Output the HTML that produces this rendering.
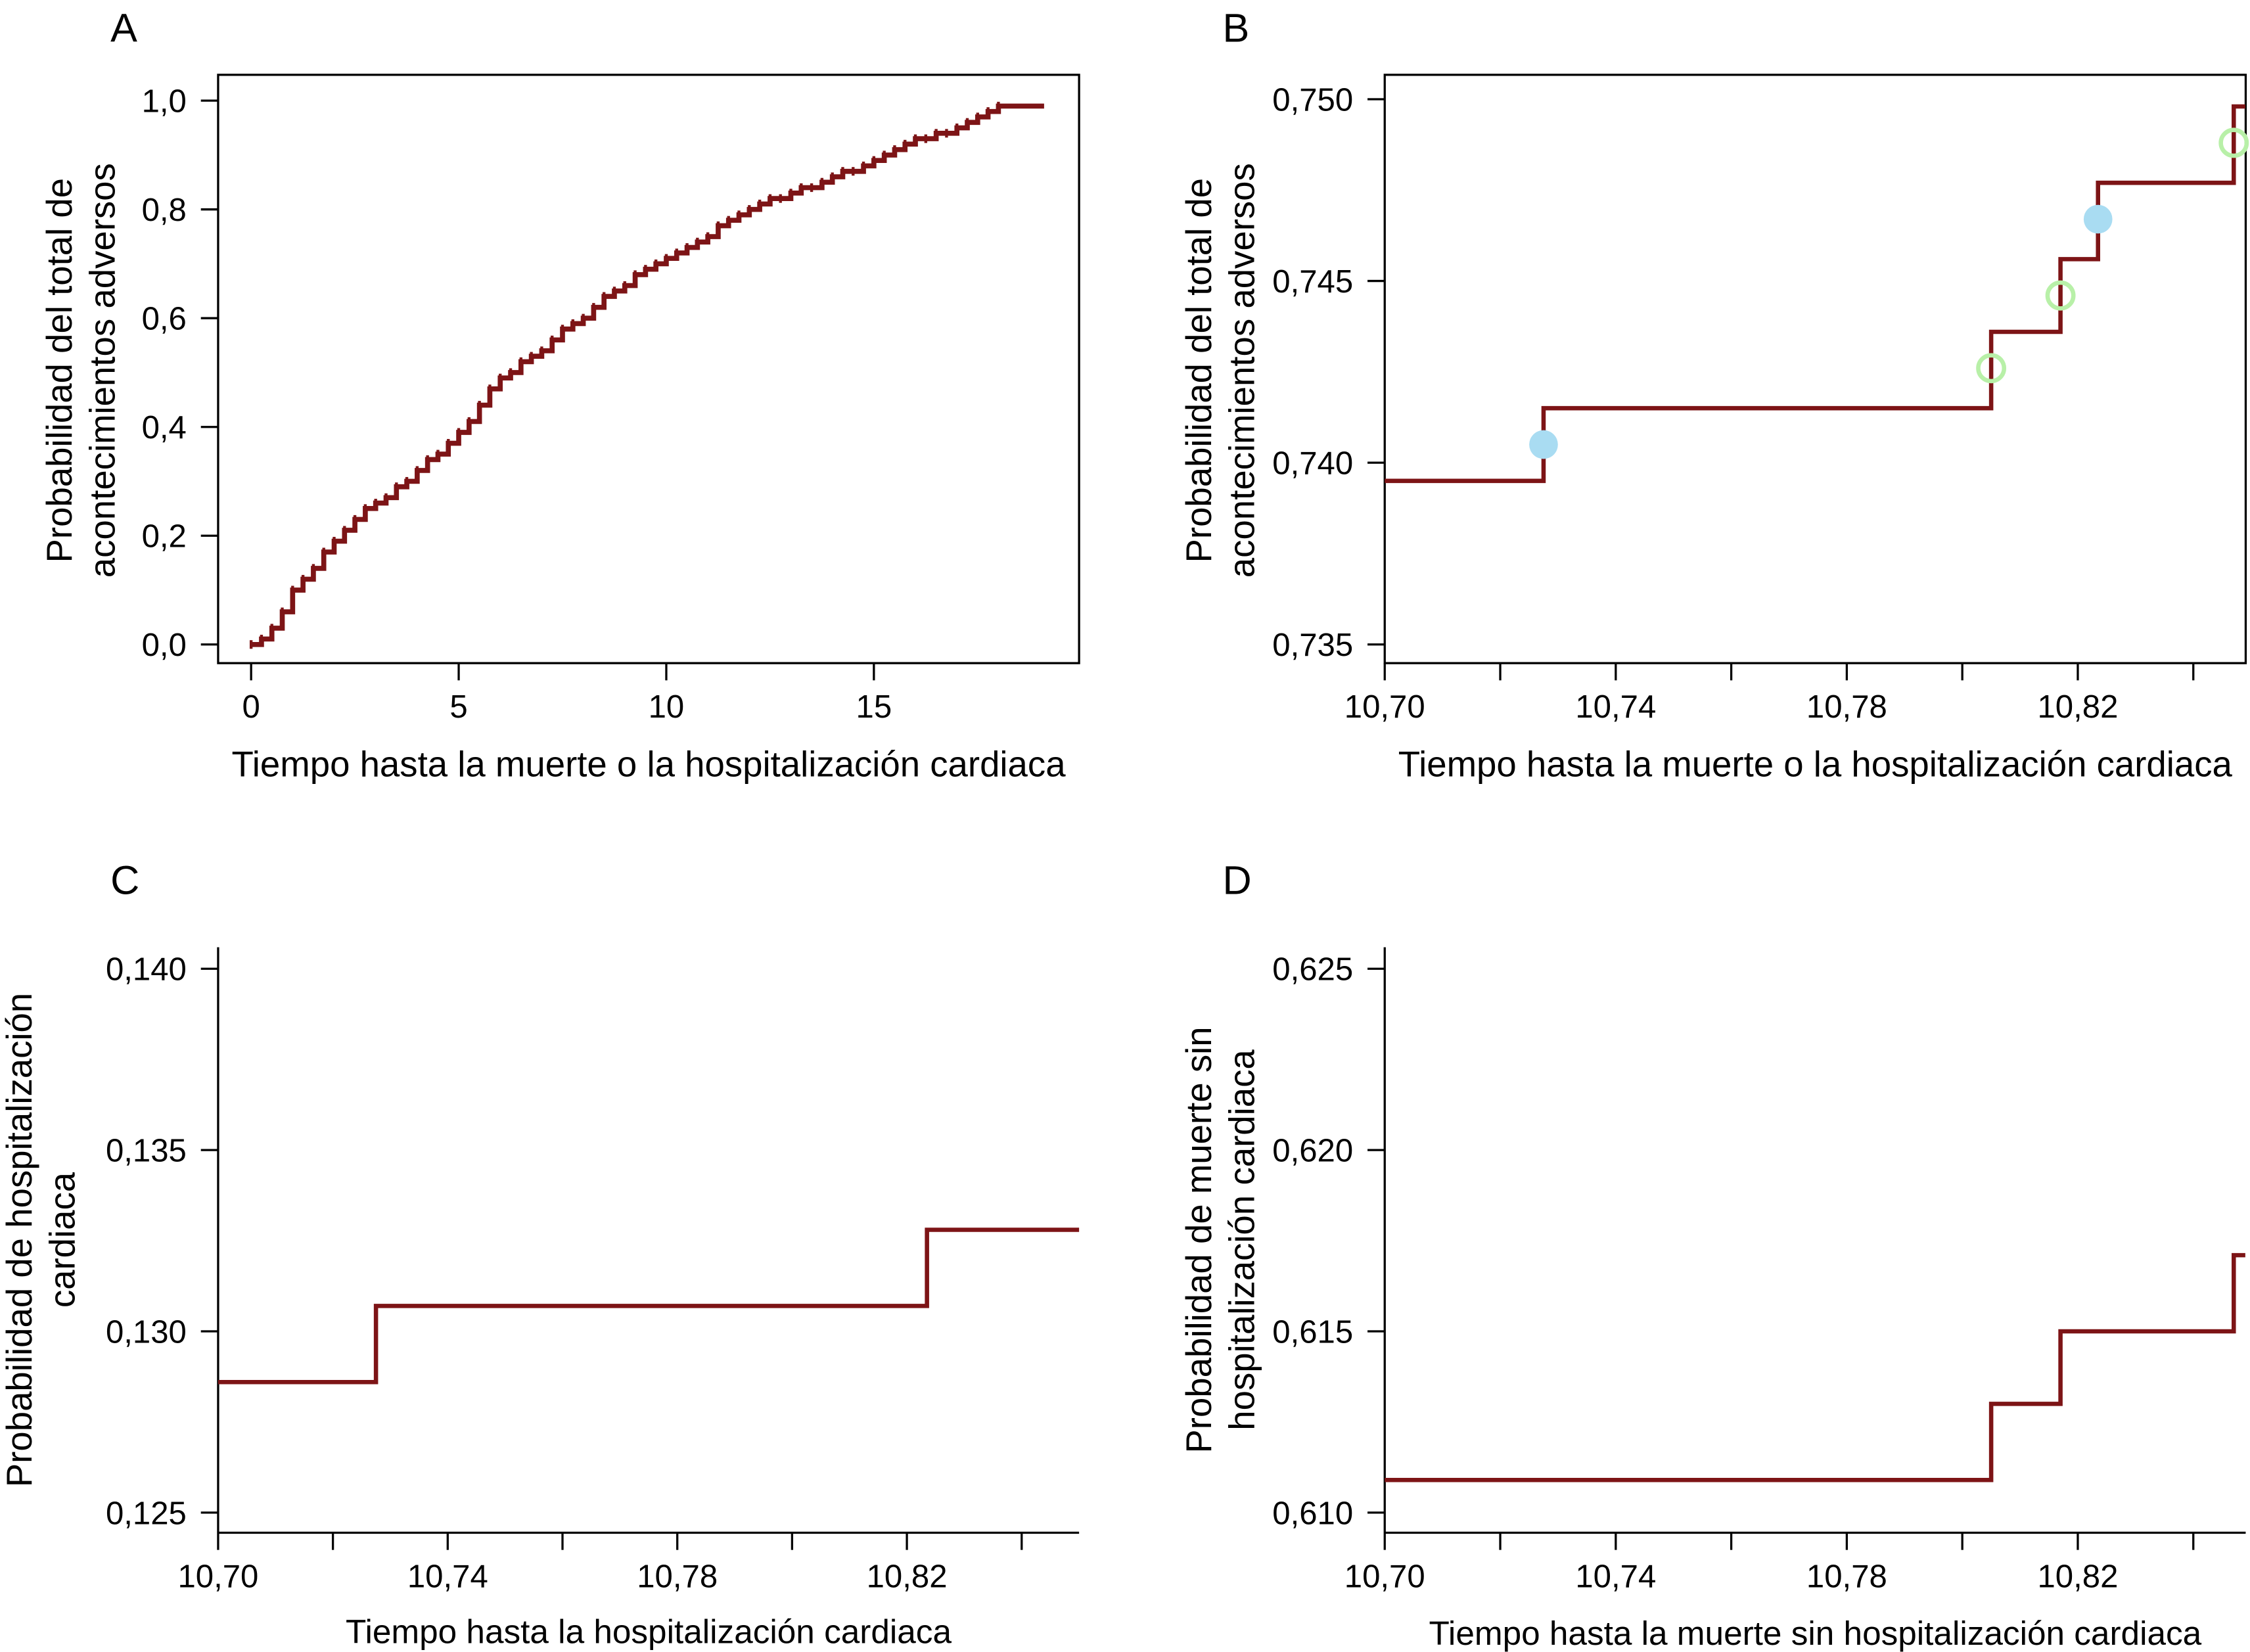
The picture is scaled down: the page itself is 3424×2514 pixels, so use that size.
<!DOCTYPE html>
<html><head><meta charset="utf-8">
<style>
html,body{margin:0;padding:0;background:#fff;}
svg{display:block;font-family:"Liberation Sans",Arial,sans-serif;}
</style></head>
<body>
<svg id="fig" width="3424" height="2514" viewBox="0 0 1568 1151" xmlns="http://www.w3.org/2000/svg">
<rect x="0" y="0" width="1568" height="1151" fill="#fff"/>
<g id="pA"></g>
<g id="pB"></g>
<g id="pC"></g>
<g id="pD"></g>
</svg>
<script>
// Panel A data
const aTimes = [0,0.25,0.5,0.75,1,1.25,1.5,1.75,2,2.25,2.5,2.75,3,3.25,3.5,3.75,4,4.25,4.5,4.75,5,5.25,5.5,5.75,6,6.25,6.5,6.75,7,7.25,7.5,7.75,8,8.25,8.5,8.75,9,9.25,9.5,9.75,10,10.25,10.5,10.75,11,11.25,11.5,11.75,12,12.25,12.5,12.75,13,13.25,13.5,13.75,14,14.25,14.5,14.75,15,15.25,15.5,15.75,16,16.25,16.5,16.75,17,17.25,17.5,17.75,18];
const aProbs = [0,0.01,0.03,0.06,0.10,0.12,0.14,0.17,0.19,0.21,0.23,0.25,0.26,0.27,0.29,0.30,0.32,0.34,0.35,0.37,0.39,0.41,0.44,0.47,0.49,0.50,0.52,0.53,0.54,0.56,0.58,0.59,0.60,0.62,0.64,0.65,0.66,0.68,0.69,0.70,0.71,0.72,0.73,0.74,0.75,0.77,0.78,0.79,0.80,0.81,0.82,0.82,0.83,0.84,0.84,0.85,0.86,0.87,0.87,0.88,0.89,0.90,0.91,0.92,0.93,0.93,0.94,0.94,0.95,0.96,0.97,0.98,0.99];
const aEndTime = 19.1;
const aYTicks = [0,0.2,0.4,0.6,0.8,1.0];
const aYLabels = ["0,0","0,2","0,4","0,6","0,8","1,0"];
const aXTicks = [0,5,10,15];
const aXLabels = ["0","5","10","15"];
// Panel B data
const bTimes = [10.70,10.7275,10.805,10.817,10.8235,10.847];
const bProbs = [0.7395,0.7415,0.7436,0.7456,0.7477,0.7498];
const bFilledT = [10.7275,10.8235];
const bFilledP = [0.7405,0.7467];
const bOpenT = [10.805,10.817,10.847];
const bOpenP = [0.7426,0.7446,0.7488];
const bYTicks = [0.735,0.740,0.745,0.750];
const bYLabels = ["0,735","0,740","0,745","0,750"];
// Panel C data
const cTimes = [10.70,10.7275,10.8235];
const cProbs = [0.1286,0.1307,0.1328];
const cYTicks = [0.125,0.130,0.135,0.140];
const cYLabels = ["0,125","0,130","0,135","0,140"];
// Panel D data
const dTimes = [10.70,10.805,10.817,10.847];
const dProbs = [0.6109,0.6130,0.6150,0.6171];
const dYTicks = [0.610,0.615,0.620,0.625];
const dYLabels = ["0,610","0,615","0,620","0,625"];
const zXTicks = [10.70,10.74,10.78,10.82];
const zXLabels = ["10,70","10,74","10,78","10,82"];
const zXMinor = [10.72,10.76,10.80,10.84];

const NS="http://www.w3.org/2000/svg";
const RED="#7d1416";
function mk(parent,tag,attrs,text){const e=document.createElementNS(NS,tag);for(const k in attrs)e.setAttribute(k,attrs[k]);if(text!==undefined)e.textContent=text;parent.appendChild(e);return e;}
function lin(d0,d1,r0,r1){return v=>r0+(v-d0)/(d1-d0)*(r1-r0);}

function stepPath(times,probs,endT,sx,sy){
  let d="M"+sx(times[0])+","+sy(probs[0]);
  for(let i=1;i<times.length;i++){d+=" L"+sx(times[i])+","+sy(probs[i-1])+" L"+sx(times[i])+","+sy(probs[i]);}
  d+=" L"+sx(endT)+","+sy(probs[probs.length-1]);
  return d;
}

function panel(g,o){
  const sx=o.sx, sy=o.sy;
  if(o.box){
    const r=mk(g,"rect",{x:o.L,y:o.T,width:o.R-o.L,height:o.B-o.T,fill:"none",stroke:"#000","stroke-width":1.5});
    
    
  } else {
    const l1=mk(g,"line",{x1:o.L,y1:o.T,x2:o.L,y2:o.B,stroke:"#000","stroke-width":1.5});
    
    
    const l2=mk(g,"line",{x1:o.L,y1:o.B,x2:o.R,y2:o.B,stroke:"#000","stroke-width":1.5});
    
    
  }
  o.yTicks.forEach((v,i)=>{
    const y=sy(v);
    const t=mk(g,"line",{x1:o.L-12,y1:y,x2:o.L,y2:y,stroke:"#000","stroke-width":1.5});
    
    
    const tx=mk(g,"text",{x:o.L-22,y:y+8,"text-anchor":"end","font-size":22.5},o.yLabels[i]);
    
    
  });
  o.xTicks.forEach((v,i)=>{
    const x=sx(v);
    const t=mk(g,"line",{x1:x,y1:o.B,x2:x,y2:o.B+12,stroke:"#000","stroke-width":1.5});
    
    
    const tx=mk(g,"text",{x:x,y:o.B+38,"text-anchor":"middle","font-size":22.5},o.xLabels[i]);
    
    
  });
  (o.xMinor||[]).forEach(v=>{
    const x=sx(v);
    const t=mk(g,"line",{x1:x,y1:o.B,x2:x,y2:o.B+12,stroke:"#000","stroke-width":1.5});
    
    
  });
  const p=mk(g,"path",{d:stepPath(o.times,o.probs,o.endT,sx,sy),fill:"none",stroke:RED,"stroke-width":o.sw||3});
  
  
  const L=mk(g,"text",{x:o.letterX,y:o.letterY,"font-size":28},o.letter);
  
  
  const xt=mk(g,"text",{x:o.xtX,y:o.xtY,"text-anchor":"middle","font-size":o.xtSize},o.xTitle);
  
  
  o.yTitle.forEach((s,i)=>{
    const x=o.ytX+i*30;
    const yt=mk(g,"text",{x:x,y:o.ytY,"text-anchor":"middle","font-size":25,transform:"rotate(-90 "+x+" "+o.ytY+")"},s);
    
    
  });
}

// A
const gA=document.getElementById("pA");
const axA=lin(0,15,175,609), ayA=lin(0,1,449,70);
panel(gA,{L:152,R:752,T:52,B:462,box:true,sx:axA,sy:ayA,yTicks:aYTicks,yLabels:aYLabels,xTicks:aXTicks,xLabels:aXLabels,
 times:aTimes,probs:aProbs,endT:aEndTime,sw:3.5,letter:"A",letterX:77,letterY:29,xTitle:"Tiempo hasta la muerte o la hospitalización cardiaca",xtX:452,xtY:541,xtSize:25,
 yTitle:["Probabilidad del total de","acontecimientos adversos"],ytX:50,ytY:258});
aTimes.forEach((t,i)=>{
  const c=mk(gA,"line",{x1:axA(t),y1:ayA(aProbs[i])-3,x2:axA(t),y2:ayA(aProbs[i])+3,stroke:RED,"stroke-width":2});
  
  
});

// B
const gB=document.getElementById("pB");
const bx=lin(10.70,10.74,965,1126), byS=lin(0.735,0.750,449,69);
panel(gB,{L:965,R:1565,T:52,B:462,box:true,sx:bx,sy:byS,yTicks:bYTicks,yLabels:bYLabels,xTicks:zXTicks,xLabels:zXLabels,xMinor:zXMinor,
 times:bTimes,probs:bProbs,endT:10.849,letter:"B",letterX:852,letterY:29,xTitle:"Tiempo hasta la muerte o la hospitalización cardiaca",xtX:1265,xtY:541,xtSize:25,
 yTitle:["Probabilidad del total de","acontecimientos adversos"],ytX:844,ytY:258});
bFilledT.forEach((t,i)=>{
  const c=mk(gB,"circle",{cx:bx(t),cy:byS(bFilledP[i]),r:10,fill:"#a9dcf2"});
  
  
});
bOpenT.forEach((t,i)=>{
  const c=mk(gB,"circle",{cx:bx(t),cy:byS(bOpenP[i]),r:9,fill:"none",stroke:"#b8f0a8","stroke-width":3});
  
  
});

// C
const gC=document.getElementById("pC");
const cx=lin(10.70,10.74,152,312), cyS=lin(0.125,0.140,1054,675);
panel(gC,{L:152,R:752,T:660,B:1068,box:false,sx:cx,sy:cyS,yTicks:cYTicks,yLabels:cYLabels,xTicks:zXTicks,xLabels:zXLabels,xMinor:zXMinor,
 times:cTimes,probs:cProbs,endT:10.85,letter:"C",letterX:77,letterY:623,xTitle:"Tiempo hasta la hospitalización cardiaca",xtX:452,xtY:1145,xtSize:23.5,
 yTitle:["Probabilidad de hospitalización","cardiaca"],ytX:22,ytY:864});

// D
const gD=document.getElementById("pD");
const dx=lin(10.70,10.74,965,1126), dyS=lin(0.610,0.625,1054,675);
panel(gD,{L:965,R:1565,T:660,B:1068,box:false,sx:dx,sy:dyS,yTicks:dYTicks,yLabels:dYLabels,xTicks:zXTicks,xLabels:zXLabels,xMinor:zXMinor,
 times:dTimes,probs:dProbs,endT:10.849,letter:"D",letterX:852,letterY:623,xTitle:"Tiempo hasta la muerte sin hospitalización cardiaca",xtX:1265,xtY:1146,xtSize:23.5,
 yTitle:["Probabilidad de muerte sin","hospitalización cardiaca"],ytX:844,ytY:864});
</script>
</body></html>
